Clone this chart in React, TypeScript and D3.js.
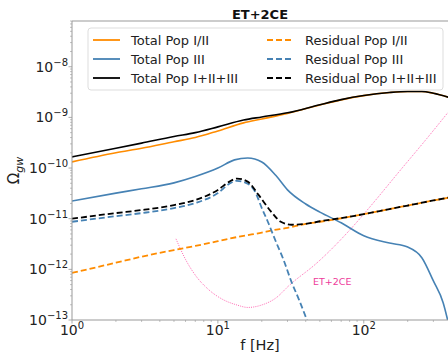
import React from "react";
import * as d3 from "d3";

const width = 448;
const height = 355;
const plot = { left: 72, top: 21, right: 450, bottom: 320 };

// total backgrounds
const totFreq = [1, 2, 3, 5, 7, 10, 15, 20, 30, 50, 70, 100, 150, 200, 250, 300, 390];
const totPopI = [1.32e-10, 2.0e-10, 2.45e-10, 3.3e-10, 4.0e-10, 5.4e-10, 7.8e-10, 9.3e-10, 1.2e-9, 1.76e-9, 2.22e-9, 2.69e-9, 3.09e-9, 3.24e-9, 3.24e-9, 3.0e-9, 2.45e-9];
const totAll = [1.66e-10, 2.45e-10, 3.1e-10, 4.2e-10, 5.0e-10, 6.5e-10, 8.9e-10, 1.02e-9, 1.23e-9, 1.78e-9, 2.24e-9, 2.7e-9, 3.1e-9, 3.25e-9, 3.25e-9, 3.0e-9, 2.45e-9];

const popIIIFreq = [1, 2, 3, 5, 7, 10, 13, 16, 20, 25, 30, 40, 50, 70, 100, 150, 200, 250, 300, 350, 390];
const totPopIII = [2.24e-11, 3.2e-11, 3.9e-11, 5.1e-11, 6.8e-11, 1.0e-10, 1.45e-10, 1.58e-10, 1.32e-10, 7.1e-11, 3.7e-11, 1.95e-11, 1.35e-11, 8.3e-12, 4.6e-12, 3.3e-12, 2.75e-12, 1.7e-12, 5.9e-13, 2.2e-13, 6.3e-14];

// residual backgrounds
const resIFreq = [1, 2, 3, 5, 7, 10, 15, 20, 23, 30, 40, 50, 70, 100, 150, 200, 300, 390];
const resPopI = [8.5e-13, 1.35e-12, 1.78e-12, 2.4e-12, 2.9e-12, 3.6e-12, 4.6e-12, 5.3e-12, 5.8e-12, 6.6e-12, 7.9e-12, 8.7e-12, 1.02e-11, 1.23e-11, 1.55e-11, 1.82e-11, 2.29e-11, 2.63e-11];

const resIIIFreq = [1, 2, 3, 5, 7, 10, 12, 13.5, 16, 18, 20, 22, 25, 28, 32, 36, 42];
const resPopIII = [8.7e-12, 1.12e-11, 1.29e-11, 1.62e-11, 2.04e-11, 3.2e-11, 4.9e-11, 5.6e-11, 4.9e-11, 3.4e-11, 1.62e-11, 8.7e-12, 3.5e-12, 1.62e-12, 5.6e-13, 2.5e-13, 8e-14];

const resAllFreq = [1, 2, 3, 5, 7, 10, 12, 13.5, 16, 19, 23, 27, 32, 40, 50, 70, 100, 150, 200, 300, 390];
const resAll = [1.0e-11, 1.29e-11, 1.48e-11, 1.86e-11, 2.34e-11, 3.7e-11, 5.4e-11, 6.2e-11, 5.4e-11, 2.95e-11, 1.41e-11, 8.7e-12, 7.6e-12, 7.9e-12, 8.9e-12, 1.03e-11, 1.23e-11, 1.55e-11, 1.82e-11, 2.29e-11, 2.63e-11];

// detector sensitivity
const sensFreq = [5.16, 6.03, 7.07, 8.54, 10.65, 13.5, 16.05, 20, 24.9, 31, 47.6, 82.7, 110, 176, 270, 376];
const sensET2CE = [4.0e-12, 1.53e-12, 7.4e-13, 4.1e-13, 2.6e-13, 1.98e-13, 1.77e-13, 1.98e-13, 2.7e-13, 4.9e-13, 1.33e-12, 6.6e-12, 1.7e-11, 8.7e-11, 3.8e-10, 1.23e-9];

const legendItems = [
  { label: "Total Pop I/II", color: "#ff8c00", dash: null },
  { label: "Total Pop III", color: "#4682b4", dash: null },
  { label: "Total Pop I+II+III", color: "#000000", dash: null },
  { label: "Residual Pop I/II", color: "#ff8c00", dash: "6,3" },
  { label: "Residual Pop III", color: "#4682b4", dash: "6,3" },
  { label: "Residual Pop I+II+III", color: "#000000", dash: "6,3" },
];

const yDecades = [-13, -12, -11, -10, -9, -8];
const xDecades = [0, 1, 2];

const x = d3.scaleLog().domain([1, 390]).range([plot.left, plot.right]);
const y = d3.scaleLog().domain([1e-13, 8e-8]).range([plot.bottom, plot.top]);

const lineGen = d3
  .line<[number, number]>()
  .x((d) => x(d[0]))
  .y((d) => y(d[1]))
  .curve(d3.curveMonotoneX);

const path = (fs: number[], vs: number[]) => lineGen(fs.map((f, i) => [f, vs[i]]) as [number, number][]) || "";

const series = [
  { f: totFreq, v: totPopI, color: "#ff8c00", dash: null, w: 1.6 },
  { f: popIIIFreq, v: totPopIII, color: "#4682b4", dash: null, w: 1.6 },
  { f: totFreq, v: totAll, color: "#000000", dash: null, w: 1.6 },
  { f: resIFreq, v: resPopI, color: "#ff8c00", dash: "6,3", w: 1.8 },
  { f: resIIIFreq, v: resPopIII, color: "#4682b4", dash: "6,3", w: 1.8 },
  { f: resAllFreq, v: resAll, color: "#000000", dash: "6,3", w: 1.8 },
];

const axisColor = "#999";
const font = "DejaVu Sans, sans-serif";

export default function App() {
  const yMinor: number[] = [];
  for (let e = -13; e <= -8; e++) {
    for (let k = 2; k <= 9; k++) {
      const v = k * Math.pow(10, e);
      if (v <= 8e-8) yMinor.push(v);
    }
  }
  const xMinor: number[] = [];
  for (let e = 0; e <= 2; e++) {
    for (let k = 2; k <= 9; k++) {
      const v = k * Math.pow(10, e);
      if (v <= 390) xMinor.push(v);
    }
  }

  return (
    <svg width={width} height={height} style={{ position: "absolute", left: 0, top: 0 }} fontFamily={font}>
      <rect width={width} height={height} fill="#fff" />
      <defs>
        <clipPath id="plotclip">
          <rect x={plot.left} y={plot.top} width={plot.right - plot.left} height={plot.bottom - plot.top} />
        </clipPath>
      </defs>

      <g clipPath="url(#plotclip)">
        <path d={path(sensFreq, sensET2CE)} fill="none" stroke="#ff69b4" strokeWidth={1} strokeDasharray="1,1.2" />
        {series.map((s, i) => (
          <path
            key={i}
            d={path(s.f, s.v)}
            fill="none"
            stroke={s.color}
            strokeWidth={s.w}
            strokeDasharray={s.dash || undefined}
          />
        ))}
      </g>

      <text x={313} y={285} fontSize={9.5} fill="#ee3a9a">ET+2CE</text>

      {/* spines */}
      <line x1={plot.left} x2={plot.left} y1={plot.top} y2={plot.bottom} stroke={axisColor} strokeWidth={1} />
      <line x1={plot.left} x2={width} y1={plot.bottom} y2={plot.bottom} stroke={axisColor} strokeWidth={1} />
      <line x1={plot.left} x2={width} y1={plot.top} y2={plot.top} stroke={axisColor} strokeWidth={1} />

      {/* y ticks */}
      {yMinor.map((v, i) => (
        <line key={"ym" + i} x1={plot.left - 2} x2={plot.left} y1={y(v)} y2={y(v)} stroke={axisColor} strokeWidth={0.6} />
      ))}
      {yDecades.map((e) => (
        <g key={"y" + e}>
          <line x1={plot.left - 3.5} x2={plot.left} y1={y(Math.pow(10, e))} y2={y(Math.pow(10, e))} stroke={axisColor} strokeWidth={0.8} />
          <text x={plot.left - 4} y={y(Math.pow(10, e)) + 5} fontSize={14} textAnchor="end" fill="#222">
            10<tspan dy={-6} fontSize={10}>{"\u2212" + Math.abs(e)}</tspan>
          </text>
        </g>
      ))}

      {/* x ticks */}
      {xMinor.map((v, i) => (
        <line key={"xm" + i} x1={x(v)} x2={x(v)} y1={plot.bottom} y2={plot.bottom + 2} stroke={axisColor} strokeWidth={0.6} />
      ))}
      {xDecades.map((e) => (
        <g key={"x" + e}>
          <line x1={x(Math.pow(10, e))} x2={x(Math.pow(10, e))} y1={plot.bottom} y2={plot.bottom + 3.5} stroke={axisColor} strokeWidth={0.8} />
          <text x={x(Math.pow(10, e))} y={335} fontSize={14} textAnchor="middle" fill="#222">
            10<tspan dy={-6} fontSize={10}>{String(e)}</tspan>
          </text>
        </g>
      ))}

      {/* labels */}
      <text x={260} y={350} fontSize={14.5} textAnchor="middle" fill="#222">f [Hz]</text>
      <text transform={`translate(19,${(plot.top + plot.bottom) / 2}) rotate(-90)`} fontSize={15} textAnchor="middle" fill="#222">
        Ω<tspan dy={4} fontSize={11} fontStyle="italic">gw</tspan>
      </text>
      <text x={260} y={19} fontSize={13} fontWeight="bold" textAnchor="middle" fill="#111">ET+2CE</text>

      {/* legend */}
      <rect x={88} y={28} width={355} height={62} rx={3} fill="#fff" fillOpacity={0.8} stroke="#ddd" strokeWidth={1} />
      {legendItems.map((it, i) => {
        const col = Math.floor(i / 3);
        const row = i % 3;
        const lx = col === 0 ? 93 : 267;
        const cy = 40 + row * 19;
        return (
          <g key={it.label}>
            <line x1={lx} x2={lx + 27} y1={cy} y2={cy} stroke={it.color} strokeWidth={1.8} strokeDasharray={it.dash || undefined} />
            <text x={lx + 38} y={cy + 4.5} fontSize={13} fill="#222">{it.label}</text>
          </g>
        );
      })}
    </svg>
  );
}
